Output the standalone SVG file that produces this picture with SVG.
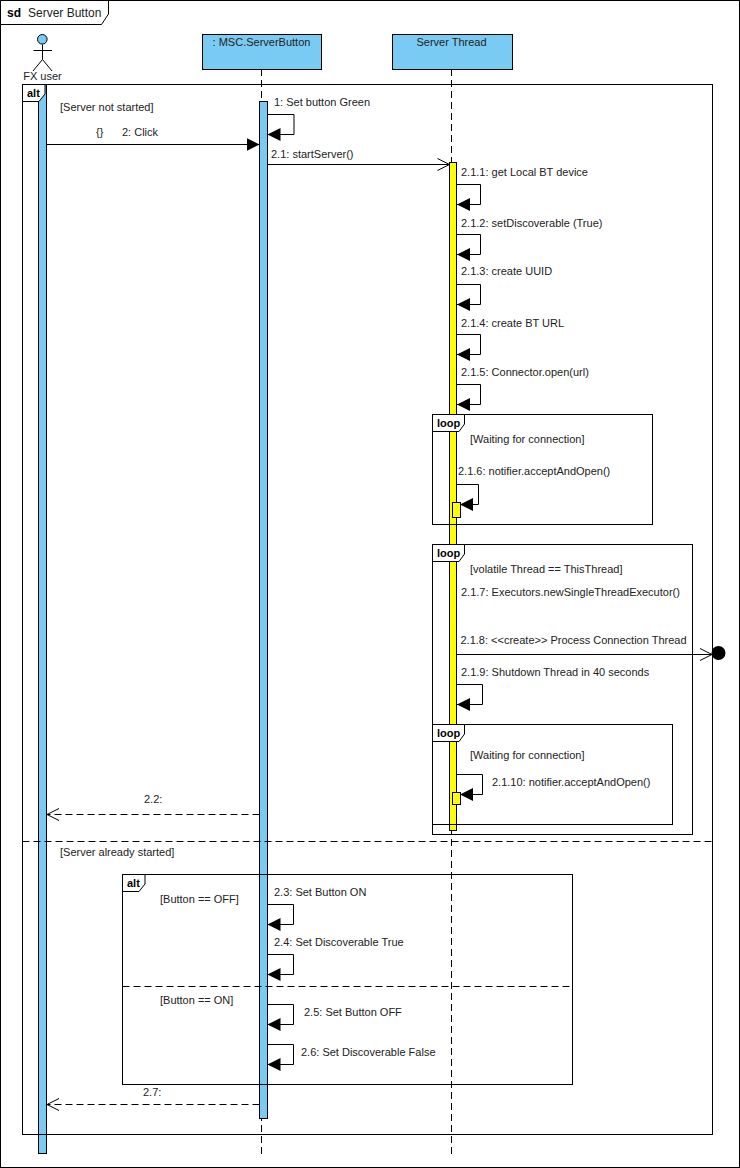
<svg xmlns="http://www.w3.org/2000/svg" width="740" height="1168" viewBox="0 0 740 1168">
<defs>
<marker id="open" markerUnits="userSpaceOnUse" markerWidth="16" markerHeight="16" refX="13" refY="7" orient="auto"><path d="M1,1 L13,7 L1,13" fill="none" stroke="#000" stroke-width="1"/></marker>
<marker id="fill" markerUnits="userSpaceOnUse" markerWidth="16" markerHeight="16" refX="13" refY="7" orient="auto"><path d="M0,0.5 L13,7 L0,13.5 Z" fill="#000"/></marker>
</defs>
<style>
text{font-family:"Liberation Sans",Arial,sans-serif;font-size:11px;fill:#222}
text.b{font-weight:bold;fill:#000}
text.m{text-anchor:middle}
.l{fill:none;stroke:#000;stroke-width:1}
.ll{fill:none;stroke:#000;stroke-width:1;stroke-dasharray:7 4}
.d{fill:none;stroke:#000;stroke-width:1;stroke-dasharray:7 4}
.f{fill:none;stroke:#000;stroke-width:1}
.t{fill:#fff;stroke:#000;stroke-width:1}
.blue{fill:#7acbf3;stroke:#000;stroke-width:1}
.yel{fill:#ff0;stroke:#000;stroke-width:1}
.s{fill:none;stroke:#000;stroke-width:1;marker-end:url(#fill)}
.a{fill:none;stroke:#000;stroke-width:1;marker-end:url(#open)}
</style>
<rect width="740" height="1168" fill="#fff"/>
<g id="lifelines">
<line class="ll" x1="261.5" y1="69" x2="261.5" y2="1156"/>
<line class="ll" x1="451.5" y1="69" x2="451.5" y2="1156"/>
</g>
<g id="act-user"><rect class="blue" x="38.5" y="84.5" width="8" height="1069"/></g>
<g id="act-button"><rect class="blue" x="259.5" y="101.5" width="8" height="1017"/></g>
<g id="act-thread"><rect class="yel" x="449.5" y="162.5" width="7" height="668"/></g>
<g id="frame-sd">
<rect class="f" x="0.5" y="0.5" width="739" height="1167"/>
<path class="t" d="M0.5,0.5 H108.500 V14 L101.500,24.500 H0.500 Z"/>
<text class="b" x="7" y="17" style="font-size:12px">sd</text><text x="28" y="17" style="font-size:12px">Server Button</text>
</g>
<g id="frame-alt">
<rect class="f" x="22.500" y="84.500" width="690" height="1050"/>
<path class="t" d="M22.500,84.500 H45 V94 L39,101.500 H22.500 Z"/>
<text class="b" x="27" y="97">alt</text>
<line class="d" x1="22.500" y1="841.500" x2="712" y2="841.500"/>
<text x="60" y="111">[Server not started]</text>
<text x="60" y="856">[Server already started]</text>
</g>
<g id="frame-loop1">
<rect class="f" x="432.500" y="414.500" width="220" height="110"/>
<path class="t" d="M432.500,414.500 H464.500 V424 L459,431.500 H432.500 Z"/>
<text class="b" x="437" y="427">loop</text>
<text x="470" y="443">[Waiting for connection]</text>
</g>
<g id="frame-loop2">
<rect class="f" x="432.500" y="544.500" width="260" height="290"/>
<path class="t" d="M432.500,544.500 H464.500 V554 L459,561.500 H432.500 Z"/>
<text class="b" x="437" y="557">loop</text>
<text x="470" y="573">[volatile Thread == ThisThread]</text>
</g>
<g id="frame-loop3">
<rect class="f" x="432.500" y="724.500" width="240" height="100"/>
<path class="t" d="M432.500,724.500 H464.500 V734 L459,741.500 H432.500 Z"/>
<text class="b" x="437" y="737">loop</text>
<text x="470" y="759">[Waiting for connection]</text>
</g>
<g id="frame-alt2">
<rect class="f" x="122.500" y="874.500" width="450" height="210"/>
<path class="t" d="M122.500,874.500 H145 V884 L139,891.500 H122.500 Z"/>
<text class="b" x="127" y="887">alt</text>
<line class="d" x1="122.500" y1="986.500" x2="572" y2="986.500"/>
<text x="160" y="903">[Button == OFF]</text>
<text x="160" y="1004">[Button == ON]</text>
</g>
<g id="act-small1"><rect class="yel" x="452.500" y="502.500" width="8" height="15"/></g>
<g id="act-small2"><rect class="yel" x="452.500" y="792.500" width="8" height="12"/></g>
<g id="connectors">
<path class="s" d="M267.500,114.500 H294 V134.500 H267.500"/>
<path class="s" d="M46.500,144.500 H259.500"/>
<path class="a" d="M267.500,164.500 H449.500"/>
<path class="s" d="M457,184.500 H480.500 V204.500 H457"/>
<path class="s" d="M457,234.500 H480.500 V254.500 H457"/>
<path class="s" d="M457,284.500 H480.500 V304.500 H457"/>
<path class="s" d="M457,334.500 H480.500 V354.500 H457"/>
<path class="s" d="M457,384.500 H480.500 V404.500 H457"/>
<path class="s" d="M457,484.500 H478.500 V504.500 H460"/>
<path class="a" d="M457,654.500 H712"/>
<path class="s" d="M457,684.500 H482.500 V704.500 H457"/>
<path class="s" d="M457,774.500 H482.500 V794.500 H460"/>
<path class="a" style="stroke-dasharray:7 4" d="M259.500,814.500 H47"/>
<path class="s" d="M267.500,904.500 H293.500 V924.500 H267.500"/>
<path class="s" d="M267.500,954.500 H293.500 V974.500 H267.500"/>
<path class="s" d="M267.500,1004.500 H293.500 V1024.500 H267.500"/>
<path class="s" d="M267.500,1044.500 H293.500 V1064.500 H267.500"/>
<path class="a" style="stroke-dasharray:7 4" d="M259.500,1104.500 H47"/>
</g>
<g id="actor">
<circle cx="42.300" cy="39.300" r="4.800" fill="#7acbf3" stroke="#000"/>
<path class="l" d="M42.500,44.500 V59.500 M33.500,50.500 H52 M42.500,59.500 L33,71 M42.500,59.500 L52,71"/>
<text class="m" x="42.500" y="80">FX user</text>
</g>
<g id="node-button"><rect class="blue" x="202.500" y="34.500" width="119" height="35"/><text class="m" x="261.500" y="46">: MSC.ServerButton</text></g>
<g id="node-thread"><rect class="blue" x="392.500" y="34.500" width="120" height="35"/><text class="m" x="451.500" y="46">Server Thread</text></g>
<g id="destroy"><circle cx="718.500" cy="653" r="7" fill="#000"/></g>
<g id="labels">
<text x="274" y="106">1: Set button Green</text>
<text x="96" y="136">{}</text>
<text x="122" y="136">2: Click</text>
<text x="271" y="158">2.1: startServer()</text>
<text x="461" y="176">2.1.1: get Local BT device</text>
<text x="461" y="227">2.1.2: setDiscoverable (True)</text>
<text x="461" y="275">2.1.3: create UUID</text>
<text x="461" y="327">2.1.4: create BT URL</text>
<text x="461" y="376">2.1.5: Connector.open(url)</text>
<text x="458" y="475">2.1.6: notifier.acceptAndOpen()</text>
<text x="461" y="596">2.1.7: Executors.newSingleThreadExecutor()</text>
<text x="460.500" y="644">2.1.8: &lt;&lt;create&gt;&gt; Process Connection Thread</text>
<text x="461" y="676">2.1.9: Shutdown Thread in 40 seconds</text>
<text x="492" y="786">2.1.10: notifier.acceptAndOpen()</text>
<text x="144" y="803">2.2:</text>
<text x="274" y="896">2.3: Set Button ON</text>
<text x="274" y="946">2.4: Set Discoverable True</text>
<text x="304" y="1016">2.5: Set Button OFF</text>
<text x="301" y="1056">2.6: Set Discoverable False</text>
<text x="143" y="1096">2.7:</text>
</g>
</svg>
